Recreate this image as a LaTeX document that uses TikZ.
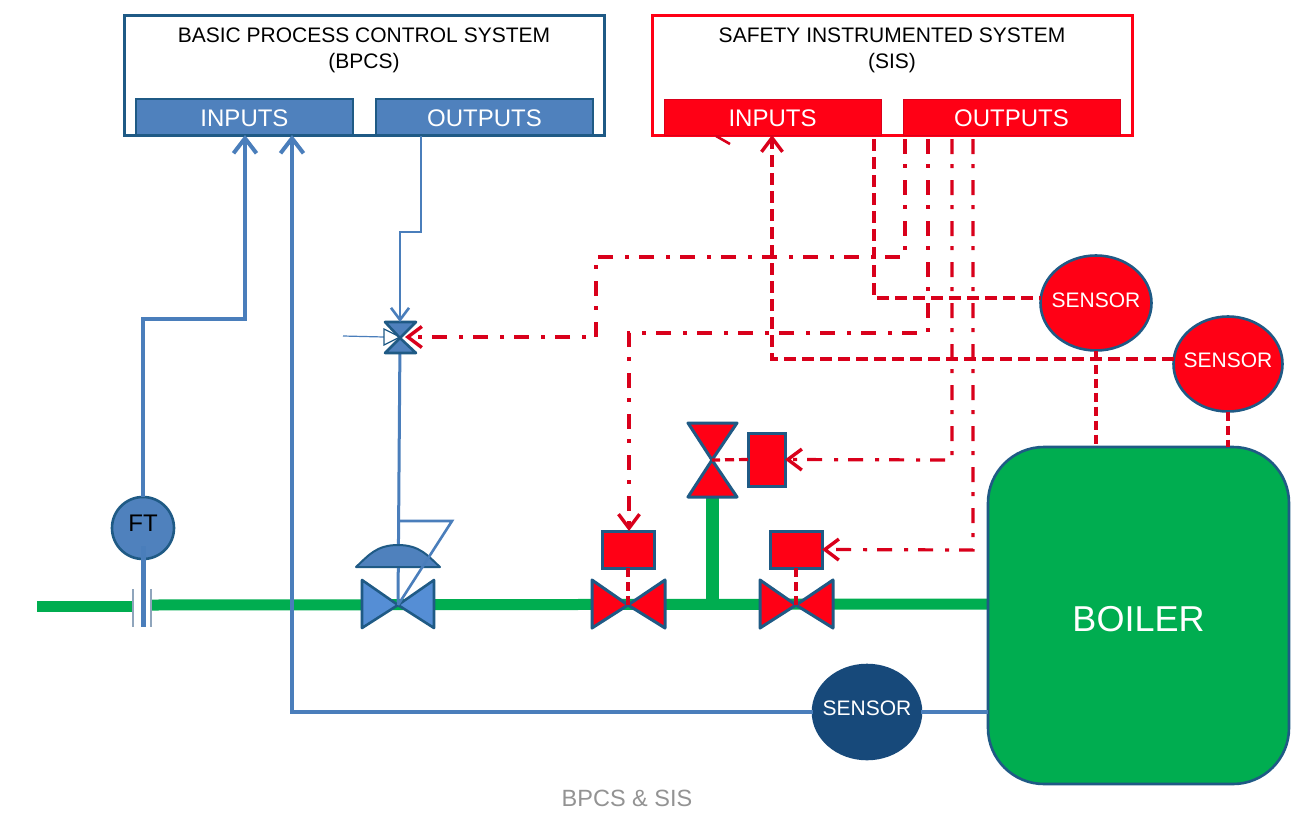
\documentclass[tikz,border=0pt]{standalone}
\usepackage{fontspec}
\setmainfont{Liberation Sans}
\usetikzlibrary{arrows.meta,calc,shapes.geometric}
\definecolor{dkblue}{HTML}{1F5A85}
\definecolor{midblue}{HTML}{4F81BD}
\definecolor{valveb}{HTML}{558ED5}
\definecolor{lnblue}{HTML}{4A7EBB}
\definecolor{navyb}{HTML}{17497A}
\definecolor{sred}{HTML}{FF0015}
\definecolor{lred}{HTML}{D9001B}
\definecolor{pgreen}{HTML}{00AD50}
\definecolor{plate}{HTML}{8FA5BC}
\tikzset{
 every node/.style={font=\fontsize{21}{25}\selectfont,outer sep=0pt},
 outer/.style={draw=#1,line width=3pt,fill=white,minimum width=480pt,minimum height=120pt,anchor=north west,inner sep=0pt},
 titletext/.style={align=center,text=black,font=\fontsize{21}{26}\selectfont,inner sep=0pt},
 iobox/.style={anchor=north west,minimum width=217pt,minimum height=36pt,inner sep=0pt,text=white,font=\fontsize{24}{28}\selectfont,text height=19.5pt,text depth=0pt},
 bluebox/.style={iobox,fill=midblue,draw=dkblue,line width=2pt},
 redbox/.style={iobox,fill=sred,draw=lred,line width=1pt},
 circ/.style={ellipse,draw=dkblue,line width=2.6pt,inner sep=0pt,text=white},
 actbox/.style={draw=dkblue,line width=3pt,fill=sred,anchor=north west,inner sep=0pt},
 bluew/.style={draw=lnblue,line width=4.4pt,line join=miter},
 bluet/.style={draw=lnblue,line width=2.6pt},
 pipe/.style={draw=pgreen,line width=11pt},
 bv/.style={draw=dkblue,fill=valveb,line width=2.6pt,line join=round},
 rv/.style={draw=dkblue,fill=sred,line width=3pt,line join=round},
 sigdd/.style={draw=lred,line width=3.2pt,dash pattern=on 15pt off 10pt on 4pt off 12pt},
 sigd/.style={draw=lred,line width=3.6pt,dash pattern=on 12pt off 6pt},
 sigshort/.style={draw=lred,line width=3.2pt,dash pattern=on 9pt off 5pt},
 bigtip/.style={-{Straight Barb[length=15pt,width=23pt,line width=4pt]}},
 redtip/.style={-{Straight Barb[length=14pt,width=21pt,line width=3.4pt]}},
 thintip/.style={-{Straight Barb[length=12pt,width=18pt,line width=2.6pt]}},
}
\begin{document}
\begin{tikzpicture}[x=1pt,y=-1pt]
\useasboundingbox (0,0) rectangle (1312,817);
\fill[white] (0,0) rectangle (1312,817);

% system boxes
\node[outer=dkblue] (bpcs) at (124.5,15.5) {};
\node[titletext] (bpcstitle) at (364,50) {BASIC PROCESS CONTROL SYSTEM\\(BPCS)};
\node[bluebox] (bin) at (136,99) {INPUTS};
\node[bluebox] (bout) at (376,99) {OUTPUTS};
\node[outer=sred] (sis) at (652.5,15.5) {};
\node[titletext] (sistitle) at (892,50) {SAFETY INSTRUMENTED SYSTEM\\(SIS)};
\node[redbox] (sin) at (664,99) {INPUTS};
\node[redbox] (sout) at (903,99) {OUTPUTS};
\coordinate (tick1) at (716,136);
\coordinate (tick2) at (730,144);
\draw[draw=lred,line width=2.6pt] (tick1) -- (tick2);

% process pipe
\coordinate (pipeL) at (37,606);
\coordinate (orL) at (133,606);
\coordinate (orR) at (151,605);
\coordinate (teeA) at (712,605);
\coordinate (teeB) at (712,495);
\coordinate (boilerL) at (990,604);
\draw[pipe] (pipeL) -- (orL);
\draw[pipe] (orR) -- (boilerL);
\draw[pipe,line width=13pt] (teeB) -- (teeA);

% orifice
\coordinate (p1a) at (133,589); \coordinate (p1b) at (133,627);
\coordinate (p2a) at (151,589); \coordinate (p2b) at (151,627);
\draw[draw=plate,line width=1.6pt] (p1a) -- (p1b) (p2a) -- (p2b);

% boiler
\node[draw=dkblue,line width=2.6pt,fill=pgreen,rounded corners=56pt,minimum width=301pt,minimum height=337pt,anchor=north west,inner sep=0pt,text=white,font=\fontsize{36}{40}\selectfont,text height=32pt,text depth=0pt] (boiler) at (988,447) {BOILER};

% FT
\coordinate (ftstem) at (143,627);
\coordinate (ftcorner) at (143,319);
\node[circ,fill=midblue,minimum width=62pt,minimum height=62pt,text=black] (ft) at (143,528) {\makebox[0pt][c]{\raisebox{10pt}{\fontsize{24}{28}\selectfont FT}}};
\draw[bluew,bigtip] (ft.north) -- (ftcorner) -| ($(bin.south west)+(109,0)$);
\coordinate (ftlow) at (143,546);
\draw[bluew,line width=5pt] (ftlow) -- (ftstem);

% blue sensor
\node[circ,fill=navyb,draw=navyb,minimum width=108pt,minimum height=94pt] (bsens) at (867,712) {\makebox[0pt][c]{\raisebox{7pt}{SENSOR}}};
\coordinate (bc) at (292,712);
\draw[bluew,bigtip] (bsens.west) -- (bc) -- ($(bin.south west)+(156,0)$);
\draw[bluew] (bsens.east) -- (boiler.west |- bsens.east);

% control valve
\coordinate (cv) at (398,605);
\coordinate (fb1) at (399,521);
\coordinate (fb2) at (452,521);
\coordinate (sv) at (400,338);
\draw[bluet,line width=3pt] (sv) -- (cv);
\draw[bv,fill=midblue,line width=2pt] (356,567) .. controls (368,556) and (376,545) .. (398,545) .. controls (420,545) and (428,556) .. (440,567) -- cycle;
\draw[bv] (cv) -- (362,580) -- (362,628) -- cycle;
\draw[bv] (cv) -- (434,580) -- (434,628) -- cycle;
\draw[bluet,line join=miter] (fb1) -- (fb2) -- (cv);
\draw[bluet] (398,568) -- (cv);

% small valve
\coordinate (svin) at (343,336);
\coordinate (svtipl) at (384,337);
\draw[draw=lnblue,line width=1.2pt] (svin) -- (svtipl);
\draw[draw=dkblue,fill=white,line width=1.2pt] (384,329) -- (400,337) -- (384,345) -- cycle;
\draw[bv,fill=midblue] (sv) -- (385,322) -- (416,322) -- cycle;
\draw[bv,fill=midblue] (sv) -- (385,353) -- (416,353) -- cycle;
\coordinate (bo1) at (421,136);
\coordinate (bo2) at (421,232);
\coordinate (bo3) at (400,232);
\coordinate (svtop) at (400,322);
\draw[bluet,thintip] (bo1) -- (bo2) -- (bo3) -- (svtop);

% red valves
\coordinate (rv1) at (628,605);
\coordinate (rv2) at (796,605);
\coordinate (rv3) at (712,460);
\draw[rv] (rv1) -- (592,580) -- (592,628) -- cycle;
\draw[rv] (rv1) -- (665,580) -- (665,628) -- cycle;
\draw[rv] (rv2) -- (760,580) -- (760,628) -- cycle;
\draw[rv] (rv2) -- (833,580) -- (833,628) -- cycle;
\draw[rv] (rv3) -- (688,423) -- (737,423) -- cycle;
\draw[rv] (rv3) -- (688,497) -- (737,497) -- cycle;
\node[actbox,minimum width=52pt,minimum height=37pt] (a1) at (602,531) {};
\node[actbox,minimum width=52pt,minimum height=37pt] (a2) at (770,531) {};
\node[actbox,minimum width=37pt,minimum height=53pt] (a3) at (748,433) {};
\draw[sigshort] (a1.south) -- (rv1);
\draw[sigshort] (a2.south) -- (rv2);
\draw[sigshort] (a3.west) -- (rv3);

% sensors
\node[circ,fill=sred,minimum width=111pt,minimum height=95pt] (s1) at (1096,303) {\makebox[0pt][c]{\raisebox{6pt}{SENSOR}}};
\node[circ,fill=sred,minimum width=109pt,minimum height=95pt] (s2) at (1228,364) {\makebox[0pt][c]{\raisebox{7pt}{SENSOR}}};
\draw[sigshort] (s1.south) -- (s1.south |- boiler.north);
\draw[sigshort] (s2.south) -- (s2.south |- boiler.north);

% SIS signals
\coordinate (so0) at (874,139);
\coordinate (so1) at (905,139);
\coordinate (so2) at (928,139);
\coordinate (so3) at (952,139);
\coordinate (so4) at (973,139);
\coordinate (c1a) at (905,257);
\coordinate (c1b) at (596,257);
\coordinate (c1c) at (596,337);
\coordinate (c2a) at (928,333);
\coordinate (c2b) at (629,333);
\coordinate (c3a) at (952,460);
\coordinate (c4a) at (973,550);
\coordinate (c0) at (874,298);
\coordinate (c5a) at (772,359);
\coordinate (svr) at (405,337);
\draw[sigdd,redtip] (so1) -- (c1a) -- (c1b) -- (c1c) -- (svr);
\draw[sigdd,redtip] (so2) -- (c2a) -- (c2b) -- (c2b |- a1.north);
\draw[sigdd,redtip] (so3) -- (c3a) -- (a3.east);
\draw[sigdd,redtip] (so4) -- (c4a) -- (a2.east);
\draw[sigd] (so0) -- (c0) -- (s1.west |- c0);
\draw[sigd,redtip] (s2.west |- c5a) -- (c5a) -- (c5a |- sin.south);

% caption
\node[text=gray!85,font=\fontsize{23.5}{27}\selectfont,inner sep=0pt] (cap) at (627,798) {BPCS \& SIS};
\end{tikzpicture}
\end{document}
